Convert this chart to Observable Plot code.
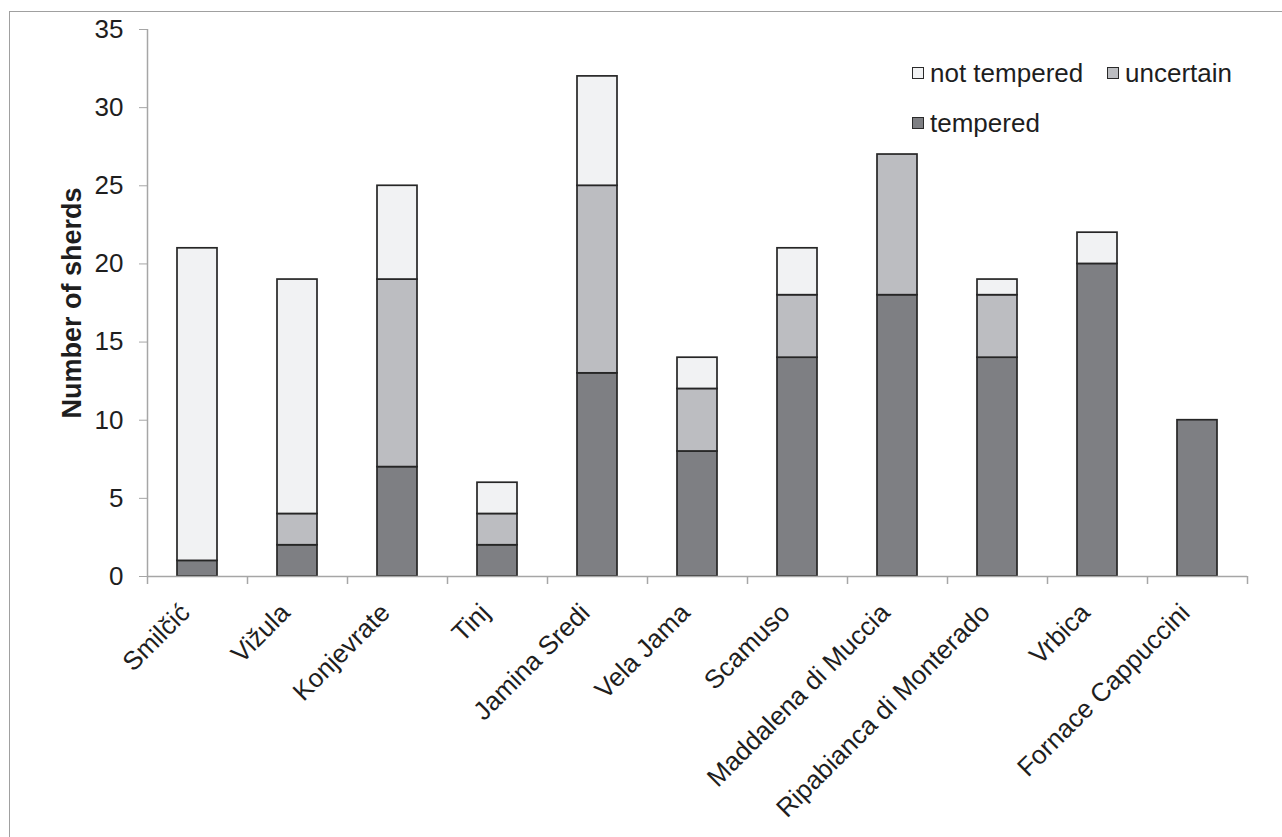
<!DOCTYPE html>
<html>
<head>
<meta charset="utf-8">
<script src="https://cdn.jsdelivr.net/npm/d3@7"></script>
<script src="https://cdn.jsdelivr.net/npm/@observablehq/plot@0.6"></script>
<style>
  html, body { margin: 0; padding: 0; background: #fff; }
  #wrap { position: relative; width: 1282px; height: 837px; overflow: hidden; font-family: "Liberation Sans", Arial, sans-serif; }
  #border { position: absolute; left: 9px; top: 11px; width: 1400px; height: 1000px; border-left: 1.5px solid #a0a0a0; border-top: 1.5px solid #a0a0a0; }
  #legend { position: absolute; left: 0; top: 0; font-size: 26px; color: #1e1e1e; line-height: 1; }
  .item { position: absolute; display: flex; align-items: center; white-space: nowrap; height: 26px; }
  .sw { width: 10px; height: 10px; border: 1.5px solid #2a2a2a; margin-right: 6px; box-sizing: content-box; }
  #chart svg [aria-label="y-axis label"] text { font-weight: bold; font-size: 27px; }
</style>
</head>
<body>
<div id="wrap">
  <div id="border"></div>
  <div id="chart"></div>
  <div id="legend"></div>
</div>
<script>
// ---- data ----
const sites = ["Smilčić", "Vižula", "Konjevrate", "Tinj", "Jamina Sredi", "Vela Jama", "Scamuso", "Maddalena di Muccia", "Ripabianca di Monterado", "Vrbica", "Fornace Cappuccini"];
const tempered    = [1, 2, 7, 2, 13, 8, 14, 18, 14, 20, 10];
const uncertain   = [0, 2, 12, 2, 12, 4, 4, 9, 4, 0, 0];
const notTempered = [20, 15, 6, 2, 7, 2, 3, 0, 1, 2, 0];
const seriesNames = ["tempered", "uncertain", "not tempered"];
const seriesColors = ["#7e7f83", "#bcbdc1", "#f1f2f3"];
const yTicks = [0, 5, 10, 15, 20, 25, 30, 35];
const yLabel = "Number of sherds";

// ---- table ----
const seriesValues = [tempered, uncertain, notTempered];
const rows = [];
sites.forEach((s, i) => {
  seriesNames.forEach((name, k) => {
    const v = seriesValues[k][i];
    if (v > 0) rows.push({site: s, type: name, value: v});
  });
});

const W = 1282, H = 837;
const ML = 147, MR = 35, MT = 29, MB = 261;
const step = (W - ML - MR) / sites.length;
const axisGray = "#a6a6a6";
const textColor = "#1e1e1e";

const chart = Plot.plot({
  width: W,
  height: H,
  marginLeft: ML,
  marginRight: MR,
  marginTop: MT,
  marginBottom: MB,
  style: {fontFamily: '"Liberation Sans", Arial, sans-serif', color: textColor, background: "transparent", overflow: "visible"},
  x: {type: "band", domain: sites, paddingInner: 0.6, paddingOuter: 0.3},
  y: {domain: [0, 35]},
  color: {domain: seriesNames, range: seriesColors},
  marks: [
    Plot.barY(rows, Plot.stackY({x: "site", y: "value", fill: "type", stroke: "#262626", strokeWidth: 1.7, order: seriesNames})),
    // axis lines
    Plot.ruleY([0], {stroke: axisGray, strokeWidth: 1.5}),
    Plot.ruleX([sites[0]], {x: d => d, dx: -step / 2, y1: 0, y2: 35, stroke: axisGray, strokeWidth: 1.5}),
    // y axis
    Plot.axisY({ticks: yTicks, tickSize: 8, tickPadding: 16, fontSize: 26, stroke: axisGray, fill: textColor,
      label: yLabel, labelAnchor: "center", labelArrow: "none", labelOffset: 86}),
    // x boundary ticks
    Plot.axisX({tickSize: 8, tickFormat: null, stroke: axisGray, strokeWidth: 1.5, dx: -step / 2, label: null}),
    Plot.axisX({ticks: [sites[sites.length - 1]], tickSize: 8, tickFormat: null, stroke: axisGray, strokeWidth: 1.5, dx: step / 2, label: null}),
    // x labels
    Plot.axisX({tickSize: 0, tickPadding: 32, tickRotate: -45, fontSize: 26, fill: textColor, dx: -12, label: null})
  ]
});
document.getElementById("chart").appendChild(chart);

// ---- legend ----
const legend = document.getElementById("legend");
const legendLayout = [
  {k: 2, left: 912, top: 60},
  {k: 1, left: 1107, top: 60},
  {k: 0, left: 912, top: 110}
];
legendLayout.forEach(({k, left, top}) => {
  const item = document.createElement("div");
  item.className = "item";
  item.style.left = left + "px";
  item.style.top = top + "px";
  const sw = document.createElement("div");
  sw.className = "sw";
  sw.style.background = seriesColors[k];
  const label = document.createElement("span");
  label.textContent = seriesNames[k];
  item.appendChild(sw);
  item.appendChild(label);
  legend.appendChild(item);
});
</script>
</body>
</html>
